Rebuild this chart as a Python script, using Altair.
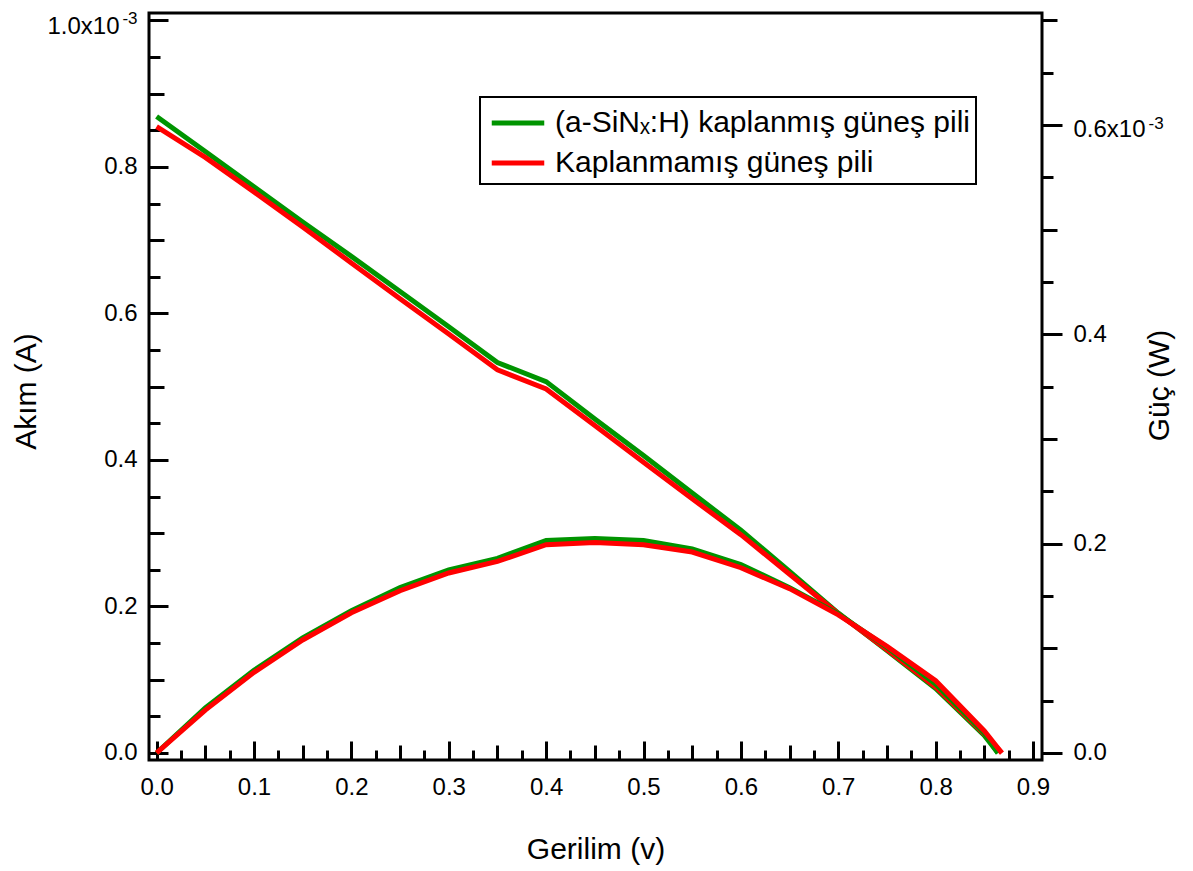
import altair as alt
import pandas as pd

# Sweep voltages (V) for each cell
volt_coated = [0.00, 0.05, 0.10, 0.15, 0.20, 0.25, 0.30, 0.35, 0.40, 0.45,
               0.50, 0.55, 0.60, 0.65, 0.70, 0.75, 0.80, 0.85, 0.864]
volt_bare = [0.00, 0.05, 0.10, 0.15, 0.20, 0.25, 0.30, 0.35, 0.40, 0.45,
             0.50, 0.55, 0.60, 0.65, 0.70, 0.75, 0.80, 0.85, 0.868]

# Current, in units of 1e-3 A
cur_coated = [0.869, 0.821, 0.773, 0.725, 0.678, 0.630, 0.582, 0.533, 0.507, 0.456,
              0.406, 0.355, 0.304, 0.248, 0.191, 0.140, 0.088, 0.024, 0.0]
cur_bare = [0.855, 0.813, 0.766, 0.718, 0.669, 0.620, 0.572, 0.523, 0.497, 0.447,
            0.397, 0.347, 0.298, 0.244, 0.190, 0.141, 0.090, 0.026, 0.0]

# Power, in units of 1e-3 W
pow_coated = [0.0, 0.043, 0.079, 0.110, 0.136, 0.158, 0.175, 0.186, 0.203, 0.205,
              0.203, 0.195, 0.180, 0.158, 0.133, 0.101, 0.066, 0.019, 0.0]
pow_bare = [0.0, 0.041, 0.077, 0.108, 0.134, 0.155, 0.172, 0.183, 0.199, 0.201,
            0.199, 0.192, 0.177, 0.157, 0.132, 0.102, 0.069, 0.021, 0.0]

SERIES = ["(a-SiN\u2093:H) kaplanmış güneş pili", "Kaplanmamış güneş pili"]
COLORS = ["#009400", "#ff0000"]

# Tick positions
x_major = [0.0, 0.1, 0.2, 0.3, 0.4, 0.5, 0.6, 0.7, 0.8, 0.9]
x_mid = [0.05, 0.15, 0.25, 0.35, 0.45, 0.55, 0.65, 0.75, 0.85]
x_minor = [0.025, 0.075, 0.125, 0.175, 0.225, 0.275, 0.325, 0.375, 0.425, 0.475,
           0.525, 0.575, 0.625, 0.675, 0.725, 0.775, 0.825, 0.875]
i_labels = [0.0, 0.2, 0.4, 0.6, 0.8]
i_major = [0.0, 0.2, 0.4, 0.6, 0.8, 1.0]
i_mid = [0.1, 0.3, 0.5, 0.7, 0.9]
i_minor = [0.05, 0.15, 0.25, 0.35, 0.45, 0.55, 0.65, 0.75, 0.85, 0.95]
p_major = [0.0, 0.2, 0.4, 0.6]
p_mid = [0.1, 0.3, 0.5, 0.7]
p_minor = [0.05, 0.15, 0.25, 0.35, 0.45, 0.55, 0.65]

rows = []
for name, vs, cs, ps in [(SERIES[0], volt_coated, cur_coated, pow_coated),
                         (SERIES[1], volt_bare, cur_bare, pow_bare)]:
    for v, c, p in zip(vs, cs, ps):
        rows.append({"V": v, "I": c, "P": p, "seri": name})
df = pd.DataFrame(rows)

W, H = 893, 747
X_DOM = [-0.0078, 0.9092]
I_DOM = [-0.0096, 1.0102]
P_DOM = [-0.0067, 0.707]
FONT = "Liberation Sans"
LBL = 24
TTL = 30

base = alt.Chart(df)


def xenc(axis):
    return alt.X("V:Q", scale=alt.Scale(domain=X_DOM, nice=False, zero=False), axis=axis)


def ienc(axis):
    return alt.Y("I:Q", scale=alt.Scale(domain=I_DOM, nice=False, zero=False), axis=axis)


def penc(axis):
    return alt.Y("P:Q", scale=alt.Scale(domain=P_DOM, nice=False, zero=False), axis=axis)


def ghost():
    return base.mark_point(opacity=0, size=0)


def tick_axis(orient, values, size, offset=0):
    return alt.Axis(orient=orient, offset=offset, values=values, tickSize=size,
                    tickWidth=3, tickColor="black", labels=False, domain=False,
                    grid=False, title=None)


def label_axis(orient, values, expr, size=LBL, pad=12, shift=0, **kw):
    return alt.Axis(orient=orient, values=values, labelExpr=expr, ticks=True,
                    tickSize=0, tickOpacity=0, tickWidth=0, labelPadding=pad,
                    labelOffset=shift, labelFont=FONT, labelFontSize=size,
                    labelColor="black", domain=False, grid=False,
                    labelOverlap=False, **kw)


# Legend key: a horizontal stroke longer than its layout cell
color = alt.Color(
    "seri:N",
    scale=alt.Scale(domain=SERIES, range=COLORS),
    legend=alt.Legend(
        orient="none", legendX=331, legendY=84, title=None,
        labelFont=FONT, labelFontSize=30, labelColor="black", labelLimit=800,
        symbolType="M-1.5,0H1.5", symbolStrokeWidth=5, symbolSize=1225,
        symbolOffset=12, labelOffset=17, padding=6, rowPadding=5,
        strokeColor="black", fillColor="white",
    ),
)

title_style = dict(titleFont=FONT, titleFontSize=TTL, titleFontWeight="normal",
                   titleColor="black")

# Current (left axis)
cur_lines = base.mark_line(strokeWidth=5).encode(
    x=xenc(None),
    y=ienc(label_axis("left", i_labels, "format(datum.value, '.1f')",
                      title="Akım (A)", titleAngle=270, titleX=-114, titleY=378,
                      titleBaseline="alphabetic", titleAlign="center", **title_style)),
    color=color,
)
i_ten = ghost().encode(y=ienc(label_axis("left", [1.0], "'1.0x10'", pad=30, shift=6, title=None)))
i_exp = ghost().encode(y=ienc(label_axis("left", [1.0], "'-3'", size=17, pad=12, shift=-2, title=None)))
i_t1 = ghost().encode(y=ienc(tick_axis("right", i_major, 19, -W)))
i_t2 = ghost().encode(y=ienc(tick_axis("right", i_mid, 15, -W)))
i_t3 = ghost().encode(y=ienc(tick_axis("right", i_minor, 11, -W)))

left = alt.layer(cur_lines, i_ten, i_exp, i_t1, i_t2, i_t3).resolve_axis(y="independent")

# Power (right axis)
pow_lines = base.mark_line(strokeWidth=5).encode(
    x=xenc(None),
    y=penc(alt.Axis(orient="right", values=p_major,
                    labelExpr="datum.value > 0.5 ? '' : format(datum.value, '.1f')",
                    tickSize=20, tickWidth=3, tickColor="black", labelPadding=11,
                    labelFont=FONT, labelFontSize=LBL, labelColor="black",
                    domain=False, grid=False, labelOverlap=False,
                    title="Güç (W)", titleAngle=270, titleX=126, titleY=372,
                    titleBaseline="alphabetic", titleAlign="center", **title_style)),
    color=color,
)
p_ten = ghost().encode(y=penc(label_axis("right", [0.6], "'0.6x10'", pad=31, shift=5, title=None)))
p_exp = ghost().encode(y=penc(label_axis("right", [0.6], "'-3'", size=17, pad=106, shift=-1, title=None)))
p_t2 = ghost().encode(y=penc(tick_axis("right", p_mid, 15)))
p_t3 = ghost().encode(y=penc(tick_axis("right", p_minor, 11)))

right = alt.layer(pow_lines, p_ten, p_exp, p_t2, p_t3).resolve_axis(y="independent")

# Voltage axis: labels below, ticks pointing into the plot
x_lab = ghost().encode(x=xenc(label_axis(
    "bottom", x_major, "format(datum.value, '.1f')", pad=15,
    title="Gerilim (v)", titleY=98, titleBaseline="alphabetic", **title_style)))
x_t1 = ghost().encode(x=xenc(tick_axis("top", x_major, 19, -H)))
x_t2 = ghost().encode(x=xenc(tick_axis("top", x_mid, 15, -H)))
x_t3 = ghost().encode(x=xenc(tick_axis("top", x_minor, 10, -H)))

chart = (
    alt.layer(x_lab, x_t1, x_t2, x_t3, left, right)
    .resolve_scale(y="independent")
    .resolve_axis(x="independent", y="independent")
    .properties(
        width=W, height=H,
        autosize=alt.AutoSizeParams(type="none"),
        padding={"left": 149, "top": 13, "right": 1193 - 149 - W, "bottom": 871 - 13 - H},
        background="white",
    )
    .configure_view(stroke="black", strokeWidth=3)
    .configure_legend(strokeWidth=2)
)

chart.save("out.html", embed_options={"renderer": "svg", "actions": False})
